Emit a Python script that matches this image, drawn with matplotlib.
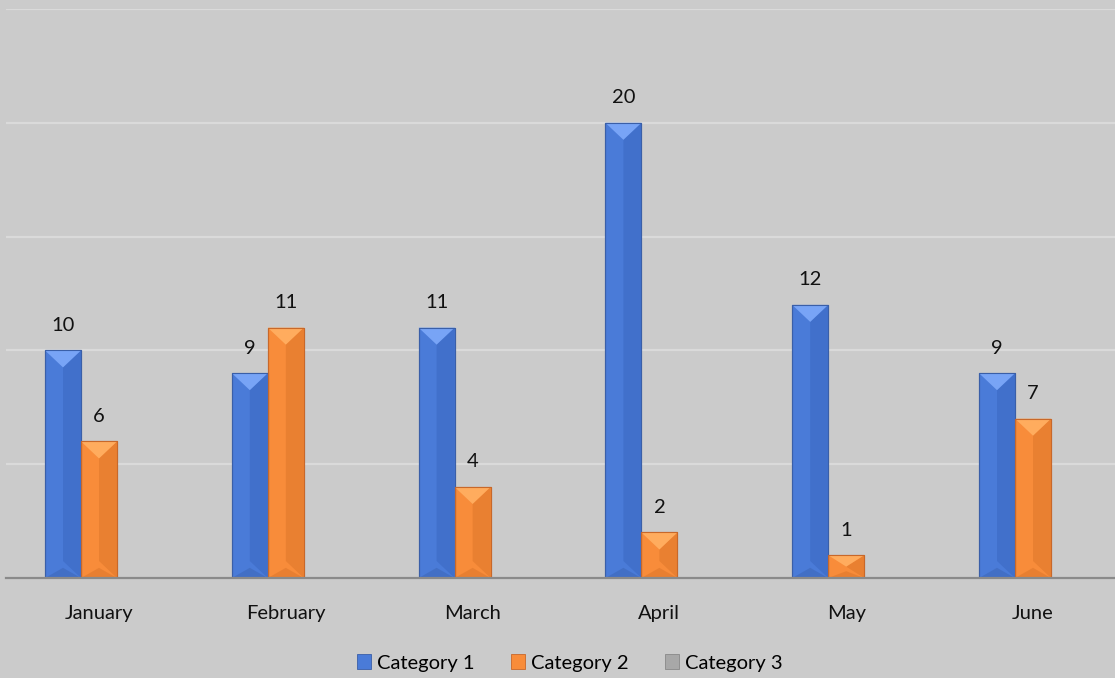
import numpy as np
import matplotlib
matplotlib.use("Agg")
import matplotlib.pyplot as plt
from matplotlib.patches import Polygon, Patch

months = ["January", "February", "March", "April", "May", "June"]
series_names = ["Category 1", "Category 2", "Category 3"]
cat1 = [10, 9, 11, 20, 12, 9]
cat2 = [6, 11, 4, 2, 1, 7]
cat3 = [np.nan, np.nan, np.nan, np.nan, np.nan, np.nan]

plt.rcParams['font.family'] = ['Lato', 'DejaVu Sans']

BG = "#cbcbcb"
styles = [
    dict(base="#4a7bd8", right="#4170cb", top="#78a4f6", bottom="#3b64b4", edge="#3a5fa8"),
    dict(base="#f88c3a", right="#e98031", top="#ffac5e", bottom="#d9742a", edge="#c8682a"),
    dict(base="#a8a8a8", right="#989898", top="#c8c8c8", bottom="#8c8c8c", edge="#888888"),
]

fig = plt.figure(figsize=(11.15, 6.78), dpi=100, facecolor=BG)
W, H = 1115, 678
step = 186.8
ax = fig.add_axes([(99 - step / 2) / W, (H - 578) / H, 6 * step / W, 569 / H])
ax.set_facecolor(BG)

x = np.arange(len(months))
w = 36 / step
ymax = 25
px_per_unit = 569 / ymax

for k, (vals, st) in enumerate(zip([cat1, cat2, cat3], styles)):
    offs = (k - 1) * w
    bars = ax.bar(x + offs, vals, width=w, color=st["base"], edgecolor=st["edge"],
                  linewidth=0.8, zorder=3)
    for b, v in zip(bars, vals):
        if v is None or np.isnan(v):
            continue
        x0 = b.get_x()
        x1 = x0 + b.get_width()
        xc = 0.5 * (x0 + x1)
        h = b.get_height()
        d = min(17 / px_per_unit, h / 2)
        ax.add_patch(Polygon([(xc, d), (x1, 0), (x1, h), (xc, h - d)], closed=True,
                             facecolor=st["right"], edgecolor="none", zorder=4))
        ax.add_patch(Polygon([(x0, h), (x1, h), (xc, h - d)], closed=True,
                             facecolor=st["top"], edgecolor="none", zorder=4))
        ax.add_patch(Polygon([(x0, 0), (x1, 0), (xc, d * 0.6)], closed=True,
                             facecolor=st["bottom"], edgecolor="none", zorder=4, alpha=0.5))
        ax.add_patch(Polygon([(x0, 0), (x0, h), (x1, h), (x1, 0)], closed=True,
                             facecolor="none", edgecolor=st["edge"], linewidth=0.8, zorder=5))
        ax.annotate(f"{int(v)}", (xc, h), xytext=(0, 18), textcoords="offset points",
                    ha="center", va="center", fontsize=14.5, color="#111111", zorder=6)

ax.set_xlim(-0.5, len(months) - 0.5)
ax.set_ylim(0, ymax)
ax.set_yticks(np.arange(0, ymax + 1, 5))
ax.set_yticklabels([])
ax.yaxis.grid(True, color="#dadada", linewidth=1.6, zorder=0)
ax.set_axisbelow(True)
ax.set_xticks(x)
ax.set_xticklabels(months, fontsize=14.5, color="#111111")
ax.tick_params(axis="both", length=0)
ax.tick_params(axis="x", pad=19.5)
for s in ["top", "left", "right"]:
    ax.spines[s].set_visible(False)
ax.spines["bottom"].set_color("#8a8a8a")
ax.spines["bottom"].set_linewidth(1.6)
ax.spines["bottom"].set_zorder(6)

handles = [Patch(facecolor=st["base"], edgecolor=st["edge"], linewidth=0.6) for st in styles]
fig.legend(handles, series_names, loc="center", bbox_to_anchor=(570 / W, 1 - 663 / H),
           ncol=3, frameon=False, fontsize=14.5, handlelength=0.7, handleheight=0.7,
           handletextpad=0.3, columnspacing=1.8)

fig.savefig("out.png", dpi=100, facecolor=BG)
